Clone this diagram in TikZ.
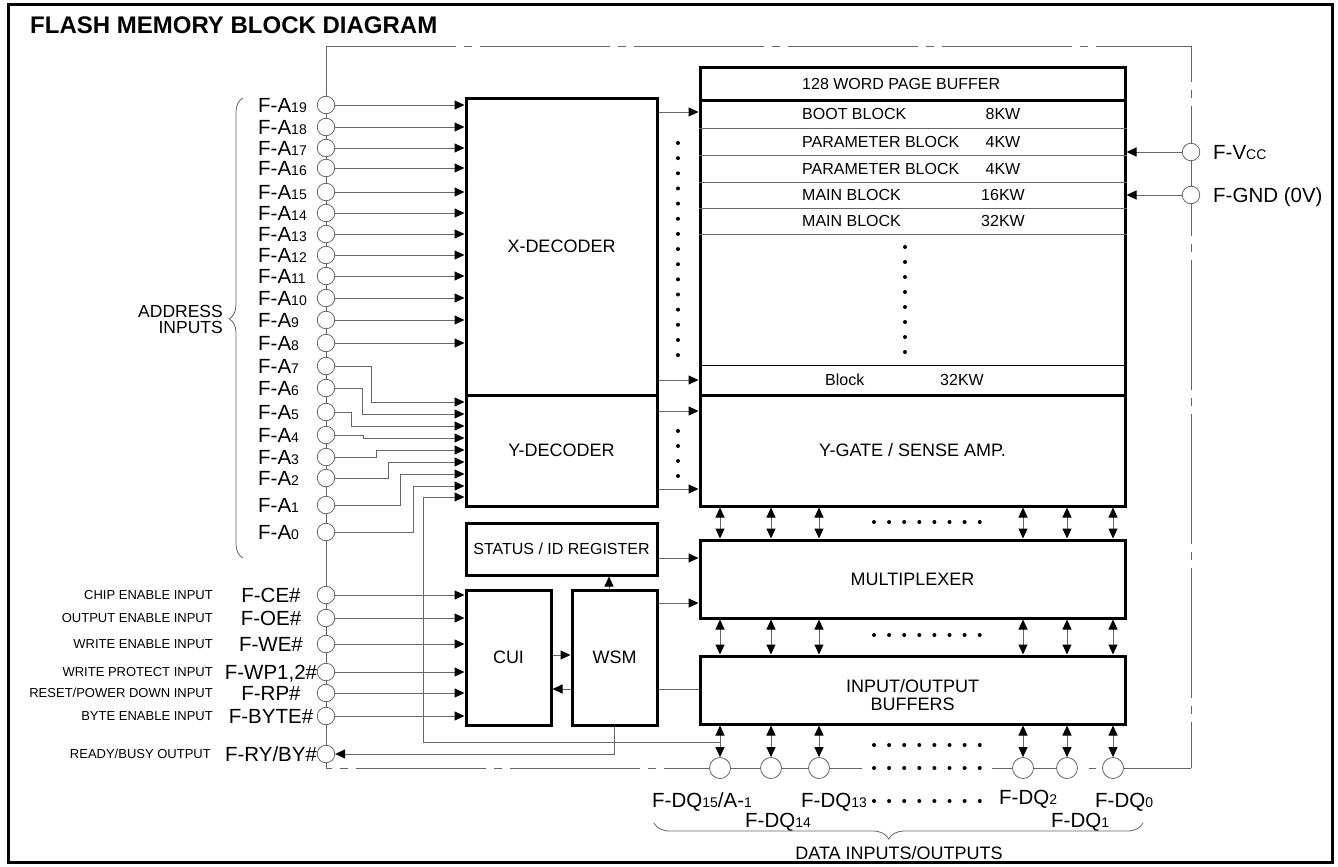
\documentclass[tikz,border=0pt]{standalone}
\usepackage{fontspec}
\setmainfont{Liberation Sans}
\usetikzlibrary{arrows.meta,decorations.pathreplacing}

\newcommand{\pinfont}{\fontsize{20.5}{20.5}\selectfont}
\newcommand{\blkfont}{\fontsize{18}{18}\selectfont}
\newcommand{\rowfont}{\fontsize{16}{16}\selectfont}
\newcommand{\descfont}{\fontsize{13}{13}\selectfont}
\newcommand{\ssc}[1]{{\fontsize{14}{14}\selectfont #1}}

\tikzset{
  box/.style={draw, line width=3pt, inner sep=0pt, font=\blkfont},
  pinc/.style={circle, draw=black!60, fill=white, line width=0.8pt, minimum size=17.5pt, inner sep=0pt},
  dpinc/.style={pinc, minimum size=21pt},
  conn/.style={draw=black!60, line width=1pt},
  toarr/.style={-{Triangle[length=10pt,width=9pt,color=black]}},
  dbl/.style={{Triangle[length=10pt,width=9pt,color=black]}-{Triangle[length=10pt,width=9pt,color=black]}},
  encl/.style={conn, dash pattern=on 130pt off 8pt on 8pt off 8pt},
  plab/.style={font=\pinfont, inner sep=0pt, text height=14.5pt, text depth=0pt},
  dlab/.style={font=\descfont, inner sep=0pt, anchor=east, text height=9.3pt, text depth=0pt},
  rlab/.style={font=\rowfont, inner sep=0pt, text height=11.5pt, text depth=0pt},
}

\begin{document}
\begin{tikzpicture}[x=1pt,y=-1pt]
            \useasboundingbox (0,0) rectangle (1338,867);
            \draw[line width=3pt] (8,5) rectangle (1332,862);
            \node[anchor=west, inner sep=0pt, font=\fontsize{24}{24}\selectfont\bfseries] (title) at (30,25) {FLASH MEMORY BLOCK DIAGRAM};

            % chip outline
            \coordinate (ctl) at ( 326, 47);
            \coordinate (ctr) at (1191, 47);
            \coordinate (cbr) at (1191,768);
            \coordinate (cbl) at ( 326,768);
            \draw[conn] (cbl) -- (ctl);
            \draw[encl] (ctl) -- (ctr) -- (cbr);
            \draw[encl, dash phase=124pt] (cbl) -- (720,768);

            % blocks
            \node[box, minimum width=191pt, minimum height=297pt] (xdec)  at (561.5,246.5) {X-DECODER};
            \node[box, minimum width=191pt, minimum height=111pt] (ydec)  at (561.5,450.5) {Y-DECODER};
            \node[box, minimum width=191pt, minimum height=52pt, font=\rowfont] (stat) at (561.5,549) {STATUS / ID REGISTER};
            \node[box, minimum width=85pt,  minimum height=135pt] (cui)   at (508.5,657.5) {CUI};
            \node[box, minimum width=85pt,  minimum height=135pt] (wsm)   at (614.5,657.5) {WSM};
            \node[box, minimum width=425pt, minimum height=327pt] (mem)   at (912.5,231.5) {};
            \node[box, minimum width=425pt, minimum height=111pt] (ygate) at (912.5,450.5) {Y-GATE / SENSE AMP.};
            \node[box, minimum width=425pt, minimum height=78pt]  (mux)   at (912.5,579)   {MULTIPLEXER};
            \node[box, minimum width=425pt, minimum height=68pt]  (iob)   at (912.5,690)   {};
            \node[font=\blkfont, align=center, inner sep=0pt] (iotxt) at (912.5,695) {INPUT/OUTPUT\\BUFFERS};

            % memory array
            \draw[line width=3pt] (mem.west |- 0,100) -- (mem.east |- 0,100);
            \foreach \y in {128,155,182,208,234}
                \draw[conn] (mem.west |- 0,\y) -- (mem.east |- 0,\y);
            \draw[line width=1pt] (mem.west |- 0,365) -- (mem.east |- 0,365);
            \node[rlab, anchor=west] (pgbuf) at (802,84) {128 WORD PAGE BUFFER};
            \foreach \n/\t/\s/\y in {boot/BOOT BLOCK/8KW/114, parA/PARAMETER BLOCK/4KW/141.5,
                                     parB/PARAMETER BLOCK/4KW/168.5, mainA/MAIN BLOCK/16KW/195,
                                     mainB/MAIN BLOCK/32KW/221} {
                \node[rlab, anchor=west] (\n)    at ( 802,\y) {\t};
                \node[rlab]              (\n-kw) at (1003,\y) {\s};
            }
            \node[rlab, anchor=west] (lastblk) at (825,380) {Block};
            \node[rlab, anchor=west] (lastkw)  at (940,380) {32KW};
            \foreach \k in {0,...,7}
                \fill (905,{247+15*\k}) circle (2pt);

            % address pins
            \foreach \n/\y in {19/105,18/127,17/148,16/168,15/192,14/213,13/234,12/255,11/276,10/298,
                               9/320,8/343,7/366,6/388,5/412,4/435,3/457,2/478,1/505,0/532} {
                \node[pinc]              (a\n)  at (326,\y) {};
                \node[plab, anchor=west] (la\n) at (258,\y) {F-A\ssc{\n}};
            }
            \foreach \n in {19,18,...,8}
                \draw[conn,toarr] (a\n) -- (a\n -| xdec.west);
            \foreach \n/\xb/\yt in {7/371/402,6/362/414,5/351/426,4/363/438,
                                    3/376/450,2/388/462,1/400/474,0/413/486}
                \draw[conn,toarr] (a\n) -| (\xb,\yt) -- (ydec.west |- 0,\yt);
            \draw[conn, line width=0.8pt, decorate, decoration={brace, amplitude=14pt, aspect=0.52}] (243,558) -- (243,98);
            \node[font=\fontsize{17.5}{16}\selectfont, align=right, anchor=east, inner sep=0pt] (addr) at (223,319) {ADDRESS\\INPUTS};

            % control pins
            \foreach \n/\t/\d/\y in {ce/{F-CE\#}/{CHIP ENABLE INPUT}/595, oe/{F-OE\#}/{OUTPUT ENABLE INPUT}/618,
                                     we/{F-WE\#}/{WRITE ENABLE INPUT}/644, wp/{F-WP1,2\#}/{WRITE PROTECT INPUT}/672,
                                     rp/{F-RP\#}/{RESET/POWER DOWN INPUT}/693, byte/{F-BYTE\#}/{BYTE ENABLE INPUT}/716} {
                \node[pinc] (\n)  at (326,\y) {};
                \node[plab] (l\n) at (271,\y) {\t};
                \node[dlab] (d\n) at (213,\y) {\d};
                \draw[conn,toarr] (\n) -- (\n -| cui.west);
            }
            \node[pinc] (ry)  at (326,754) {};
            \node[plab] (lry) at (271,754) {F-RY/BY\#};
            \node[dlab] (dry) at (211,754) {READY/BUSY OUTPUT};
            \draw[conn,toarr] (wsm.south -| 614,0) |- (ry);

            % power pins
            \node[pinc] (vcc) at (1191,152) {};
            \node[plab, anchor=west] (lvcc) at (1213,152) {F-V\ssc{CC}};
            \node[pinc] (gnd) at (1191,195) {};
            \node[plab, anchor=west] (lgnd) at (1213,195) {F-GND (0V)};
            \draw[conn,toarr] (vcc) -- (vcc -| mem.east);
            \draw[conn,toarr] (gnd) -- (gnd -| mem.east);

            % decoders to array
            \foreach \y in {112,380}
                \draw[conn,toarr] (xdec.east |- 0,\y) -- (mem.west |- 0,\y);
            \foreach \y in {411,489}
                \draw[conn,toarr] (ydec.east |- 0,\y) -- (ygate.west |- 0,\y);
            \foreach \k in {0,...,14}
                \fill (678,{143+15.15*\k}) circle (2pt);
            \foreach \k in {0,...,3}
                \fill (678,{431+15*\k}) circle (2pt);

            % control logic
            \draw[conn,toarr] (stat.east |- 0,558) -- (mux.west |- 0,558);
            \draw[conn,toarr] (wsm.east |- 0,603) -- (mux.west |- 0,603);
            \draw[conn]       (wsm.east |- 0,689) -- (iob.west |- 0,689);
            \draw[conn,toarr] (cui.east |- 0,655) -- (wsm.west |- 0,655);
            \draw[conn,toarr] (wsm.west |- 0,689) -- (cui.east |- 0,689);
            \draw[conn,toarr] (wsm.north -| 609,0) -- (stat.south -| 609,0);

            % data pins
            \foreach \n/\x in {15/720,14/771,13/819,2/1023,1/1067,0/1113} {
                \node[dpinc] (dq\n) at (\x,768) {};
                \draw[conn,dbl] (ygate.south -| dq\n) -- (mux.north -| dq\n);
                \draw[conn,dbl] (mux.south -| dq\n)   -- (iob.north -| dq\n);
                \draw[conn,dbl] (iob.south -| dq\n)   -- (dq\n);
            }
            \draw[conn] (dq15) -- (dq14);
            \draw[conn] (dq14) -- (dq13);
            \draw[conn] (dq13) -- (862,768);
            \draw[conn] (992,768) -- (dq2);
            \draw[conn] (dq2) -- (dq1);
            \draw[conn] (1089,768) -- (1096,768);
            \draw[conn] (dq0) -- (cbr);
            \foreach \y in {522,635,745,768,801}
                \foreach \k in {0,...,7}
                    \fill ({874+15.1*\k},\y) circle (2pt);
            \draw[conn,toarr] (dq15 |- 0,742) -| (423,497) -- (ydec.west |- 0,497);

            \node[plab, anchor=west] (ldq15) at ( 652,800) {F-DQ\ssc{15}/A-\ssc{1}};
            \node[plab, anchor=west] (ldq14) at ( 745,820) {F-DQ\ssc{14}};
            \node[plab, anchor=west] (ldq13) at ( 801,800) {F-DQ\ssc{13}};
            \node[plab, anchor=west] (ldq2)  at ( 999,797) {F-DQ\ssc{2}};
            \node[plab, anchor=west] (ldq1)  at (1051,820) {F-DQ\ssc{1}};
            \node[plab, anchor=west] (ldq0)  at (1095,800) {F-DQ\ssc{0}};
            \draw[conn, line width=0.8pt, decorate, decoration={brace, amplitude=16pt, aspect=0.52}] (1143,823) -- (654,823);
            \node[font=\blkfont, inner sep=0pt] (dio) at (899,853) {DATA INPUTS/OUTPUTS};
\end{tikzpicture}
\end{document}
